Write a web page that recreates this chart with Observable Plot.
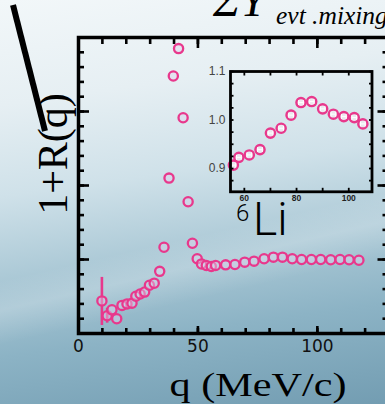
<!DOCTYPE html>
<html>
<head>
<meta charset="utf-8">
<script src="https://cdn.jsdelivr.net/npm/d3@7"></script>
<script src="https://cdn.jsdelivr.net/npm/@observablehq/plot@0.6"></script>
<style>
  html, body { margin: 0; padding: 0; width: 385px; height: 404px; overflow: hidden; }
  body {
    position: relative;
    background:
      linear-gradient(167deg, rgba(255,255,255,0) 57%, rgba(255,255,255,0.2) 63%, rgba(255,255,255,0) 70%),
      linear-gradient(172deg, #f2f7f9 0%, #e6eff3 23%, #cfe1e9 43%, #adcad7 60%, #8cb3c5 78%, #739db2 100%);
  }
  .layer { position: absolute; left: 0; top: 0; }
  #inset { left: 199.5px; top: 62.7px; }
</style>
</head>
<body>
<div id="main" class="layer"></div>
<div id="inset" class="layer"></div>
<svg id="notes" class="layer" width="385" height="404" style="overflow:hidden">
  <line x1="13" y1="5" x2="45" y2="131" stroke="#000" stroke-width="6"/>
  <text x="213" y="16" font-family="Liberation Serif" font-style="italic" font-size="46">ΣY</text>
  <text x="276" y="24" font-family="Liberation Serif" font-style="italic" font-size="25.5">evt .mixing</text>
  <text transform="translate(67,154) rotate(-90)" text-anchor="middle" font-family="Liberation Serif" font-size="42">1+R(q)</text>
  <text x="258" y="396" text-anchor="middle" font-family="Liberation Serif" font-size="34" textLength="177" lengthAdjust="spacingAndGlyphs">q (MeV/c)</text>
  <text x="236" y="221" font-family="Roboto" font-weight="300" font-size="24">6</text>
  <text x="253" y="235" font-family="Roboto" font-weight="300" font-size="46">Li</text>
</svg>
<script>
// Correlation function 1+R(q) for d-alpha pairs, 6Li region
const q = [9.8, 12.0, 14.0, 16.0, 18.2, 20.3, 22.4, 24.0, 25.8, 27.7,
           29.7, 31.7, 34.0, 35.8, 37.9, 39.7, 41.9, 43.8, 45.9, 47.7,
           49.7, 51.5, 53.5, 55.6, 57.4, 61.6, 65.5, 69.6, 73.5, 77.7,
           81.6, 85.4, 89.5, 93.4, 97.5, 101.4, 105.6, 109.5, 113.3, 117.4];
const oneR = [0.72, 0.62, 0.66, 0.60, 0.69, 0.70, 0.705, 0.752, 0.767, 0.78,
              0.826, 0.84, 0.92, 1.083, 1.55, 2.24, 2.425, 1.958, 1.39, 1.11,
              1.005, 0.97, 0.96, 0.953, 0.96, 0.964, 0.966, 0.982, 0.989, 1.005,
              1.016, 1.016, 1.005, 1.0, 1.0, 1.0, 0.998, 1.0, 0.998, 0.995];

// statistical error bars visible outside the markers
const errQ = [9.8, 12.0];
const errLo = [0.554, 0.57];
const errHi = [0.879, 0.67];

// zoomed view of the high-q tail
const insetQ = [55.8, 57.9, 61.9, 66.0, 70.0, 74.1, 77.9, 81.7, 85.8, 90.0, 94.1, 98.1, 102.1, 105.4];
const insetR = [0.907, 0.923, 0.928, 0.939, 0.973, 0.983, 1.010, 1.036, 1.038, 1.023, 1.012, 1.007, 1.005, 0.992];
const insetErrQ = 0.9;

// axis ticks
const xMinor = d3.range(0, 131, 10);
const xMajor = [0, 50, 100];
const yMinor = d3.range(0.5, 2.51, 0.1);
const yMajor = [0.5, 1.0, 1.5, 2.0, 2.5];
const insetXTicks = d3.range(60, 110, 10);
const insetXLabels = [60, 80, 100];
const insetYTicks = d3.range(0.875, 1.1, 0.025);
const insetYLabels = [0.9, 1.0, 1.1];

const pink = "#e8388c";
const mainRows = q.map((v, i) => ({q: v, r: oneR[i]}));
const errRows = errQ.map((v, i) => ({q: v, lo: errLo[i], hi: errHi[i]}));
const insetRows = insetQ.map((v, i) => ({q: v, r: insetR[i]}));

const blank = () => "";
const tickStyle = {strokeWidth: 2.6, tickFormat: blank, label: null};

const main = Plot.plot({
  width: 385,
  height: 404,
  marginLeft: 78,
  marginRight: -3.5,
  marginTop: 37,
  marginBottom: 71,
  style: {background: "transparent", overflow: "visible"},
  x: {domain: [0, 130]},
  y: {domain: [0.5, 2.5]},
  marks: [
    Plot.ruleX(errRows, {x: "q", y1: "lo", y2: "hi", stroke: pink, strokeWidth: 2.6}),
    Plot.dot(mainRows, {x: "q", y: "r", r: 4.6, stroke: pink, strokeWidth: 2.3, fill: "#ddd3ea", fillOpacity: 0.45}),
    Plot.axisX(xMinor, {anchor: "bottom", tickSize: -5, ...tickStyle}),
    Plot.axisX(xMajor, {anchor: "bottom", tickSize: -7, ...tickStyle}),
    Plot.axisX(xMinor, {anchor: "top", tickSize: -6, ...tickStyle}),
    Plot.axisX(xMajor, {anchor: "top", tickSize: -10, ...tickStyle}),
    Plot.axisY(yMinor, {anchor: "left", tickSize: -6, ...tickStyle}),
    Plot.axisY(yMajor, {anchor: "left", tickSize: -11, ...tickStyle}),
    Plot.axisY(yMinor, {anchor: "right", tickSize: -7, ...tickStyle}),
    Plot.axisY(yMajor, {anchor: "right", tickSize: -12, ...tickStyle}),
    Plot.axisX(xMajor, {anchor: "bottom", tickSize: 0, tickPadding: 6, label: null,
      fontSize: 17, fontFamily: "DejaVu Sans", fill: "#111"}),
    Plot.frame({stroke: "#000", strokeWidth: 3.5})
  ]
});
document.getElementById("main").append(main);

const insetTick = {strokeWidth: 1.8, tickFormat: blank, label: null};
const inset = Plot.plot({
  width: 175.5,
  height: 144.3,
  marginLeft: 30,
  marginRight: 4,
  marginTop: 8,
  marginBottom: 16,
  style: {background: "transparent", overflow: "visible"},
  x: {domain: [54.7, 108.9]},
  y: {domain: [0.852, 1.1]},
  marks: [
    Plot.dot(insetRows, {x: "q", y: "r", r: 4.6, stroke: pink, strokeWidth: 2.4, fill: "#f4e9f1", fillOpacity: 0.7}),
    Plot.link(insetRows, {x1: d => d.q - insetErrQ, x2: d => d.q + insetErrQ, y1: "r", y2: "r", stroke: "#fff", strokeWidth: 1}),
    Plot.link(insetRows, {x1: d => d.q - insetErrQ, x2: d => d.q - insetErrQ, y1: d => d.r - 0.005, y2: d => d.r + 0.005, stroke: "#fff", strokeWidth: 1}),
    Plot.link(insetRows, {x1: d => d.q + insetErrQ, x2: d => d.q + insetErrQ, y1: d => d.r - 0.005, y2: d => d.r + 0.005, stroke: "#fff", strokeWidth: 1}),
    Plot.axisX(insetXTicks, {anchor: "bottom", tickSize: -3.5, ...insetTick}),
    Plot.axisX(insetXTicks, {anchor: "top", tickSize: -3.5, ...insetTick}),
    Plot.axisY(insetYTicks, {anchor: "left", tickSize: -3.5, ...insetTick}),
    Plot.axisY(insetYTicks, {anchor: "right", tickSize: -3.5, ...insetTick}),
    Plot.axisX(insetXLabels, {anchor: "bottom", tickSize: 0, tickPadding: 3, label: null,
      fontSize: 8.5, fontWeight: "bold", fontFamily: "Liberation Sans", fill: "#222"}),
    Plot.axisY(insetYLabels, {anchor: "left", tickSize: 0, tickPadding: 5, label: null,
      tickFormat: d3.format(".1f"), fontSize: 12, fontFamily: "Liberation Sans", fill: "#444"}),
    Plot.frame({stroke: "#000", strokeWidth: 2.8})
  ]
});
document.getElementById("inset").append(inset);
</script>
</body>
</html>
